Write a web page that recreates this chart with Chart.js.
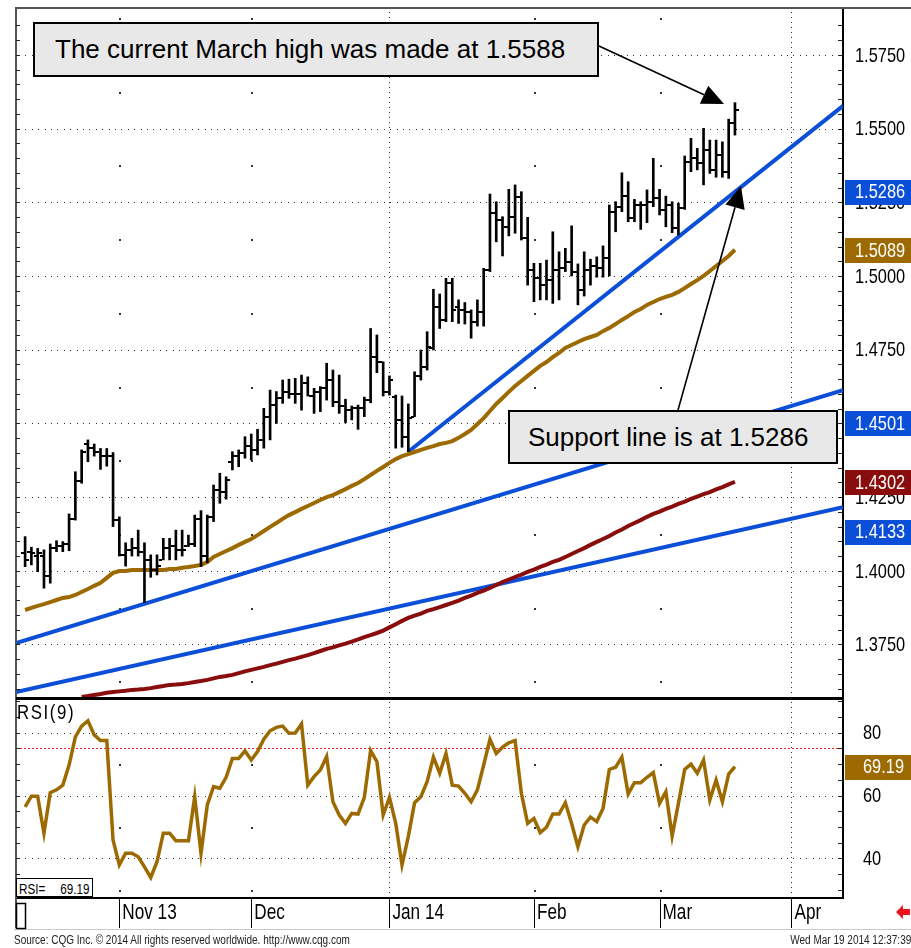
<!DOCTYPE html>
<html>
<head>
<meta charset="utf-8">
<script src="https://cdn.jsdelivr.net/npm/chart.js@4.4.1/dist/chart.umd.min.js"></script>
<style>
  body { margin: 0; background: #fff; }
  #wrap { position: relative; width: 911px; height: 948px; overflow: hidden; background: #fff; }
  #chart { position: absolute; left: 0; top: 0; }
  .note { position: absolute; box-sizing: border-box; background: #e8e8e8; border: 2px solid #000;
          font: 26px "Liberation Sans", Arial, sans-serif; color: #000; display: flex; align-items: center; white-space: nowrap; }
  .narrow { position: absolute; font-family: "Liberation Sans", Arial, sans-serif; color: #000; white-space: nowrap;
            transform-origin: 0 0; }
  .rsibox { position: absolute; left: 16px; top: 878px; width: 77px; height: 19px; box-sizing: border-box; border: 1px solid #000; background: #fff; }
  .rsibox span { position: absolute; top: 1px; font: 15px "Liberation Sans", Arial, sans-serif; transform: scaleX(0.78); }
</style>
</head>
<body>
<div id="wrap">
  <canvas id="chart" width="911" height="948"></canvas>
  <div class="note" style="left:33px;top:22px;width:566px;height:55px;padding-left:20px">The current March high was made at 1.5588</div>
  <div class="note" style="left:508px;top:410px;width:330px;height:54px;padding-left:18px">Support line is at 1.5286</div>
  <div class="narrow" style="left:17px;top:700px;font-size:21px;letter-spacing:2px;transform:scaleX(0.8)">RSI(9)</div>
  <div class="rsibox"><span style="left:2px;transform-origin:0 0">RSI=</span><span style="right:2px;transform-origin:100% 0">69.19</span></div>
  <div class="narrow" style="left:14px;top:933px;font-size:12.5px;color:#222;transform:scaleX(0.8)">Source: CQG Inc. © 2014 All rights reserved worldwide. http://www.cqg.com</div>
  <div class="narrow" style="right:0;top:933px;font-size:12.5px;color:#222;transform:scaleX(0.8);transform-origin:100% 0">Wed Mar 19 2014 12:37:39</div>
</div>
<script>
// daily bars, Oct 11 2013 .. Mar 19 2014 (index = trading day)
const opens = [1.4061,1.4065,1.4050,1.4050,1.3982,1.4077,1.4084,1.4091,1.4176,1.4305,
  1.4430,1.4416,1.4403,1.4389,1.4389,1.4172,1.4054,1.4071,1.4077,1.4064,
  1.4037,1.4003,1.4037,1.4077,1.4084,1.4071,1.4084,1.4091,1.4176,1.4050,
  1.4182,1.4274,1.4267,1.4369,1.4389,1.4399,1.4423,1.4410,1.4444,1.4523,
  1.4562,1.4586,1.4607,1.4600,1.4600,1.4637,1.4593,1.4607,1.4620,1.4647,
  1.4573,1.4559,1.4545,1.4552,1.4552,1.4579,1.4725,1.4708,1.4607,1.4589,
  1.4512,1.4454,1.4523,1.4661,1.4691,1.4756,1.4895,1.4851,1.4976,1.4895,
  1.4885,1.4878,1.4844,1.4878,1.5020,1.5214,1.5190,1.5166,1.5200,1.5268,
  1.5129,1.5020,1.4993,1.4969,1.4986,1.5020,1.5027,1.5047,1.5013,1.4952,
  1.5020,1.5034,1.5027,1.5061,1.5217,1.5234,1.5271,1.5197,1.5241,1.5241,
  1.5251,1.5264,1.5224,1.5241,1.5163,1.5231,1.5387,1.5400,1.5383,1.5427,
  1.5360,1.5410,1.5353,1.5519];
const highs = [1.4116,1.4080,1.4076,1.4071,1.4091,1.4102,1.4099,1.4193,1.4336,1.4410,
  1.4444,1.4430,1.4415,1.4415,1.4401,1.4183,1.4095,1.4110,1.4138,1.4095,
  1.4054,1.4054,1.4110,1.4110,1.4138,1.4138,1.4121,1.4189,1.4204,1.4189,
  1.4291,1.4331,1.4319,1.4404,1.4410,1.4455,1.4464,1.4480,1.4551,1.4613,
  1.4608,1.4647,1.4650,1.4653,1.4664,1.4658,1.4619,1.4625,1.4704,1.4681,
  1.4664,1.4582,1.4559,1.4562,1.4589,1.4822,1.4800,1.4709,1.4661,1.4596,
  1.4593,1.4566,1.4675,1.4749,1.4811,1.4955,1.4939,1.4992,1.4992,1.4919,
  1.4910,1.4885,1.4919,1.5026,1.5278,1.5252,1.5201,1.5294,1.5309,1.5286,
  1.5199,1.5043,1.5043,1.5054,1.5150,1.5082,1.5094,1.5170,1.5041,1.5082,
  1.5057,1.5065,1.5102,1.5241,1.5252,1.5350,1.5320,1.5260,1.5252,1.5292,
  1.5399,1.5294,1.5271,1.5252,1.5247,1.5407,1.5467,1.5433,1.5501,1.5461,
  1.5461,1.5455,1.5532,1.5588];
const lows = [1.4014,1.4020,1.3997,1.3941,1.3958,1.4065,1.4065,1.4068,1.4172,1.4297,
  1.4370,1.4389,1.4344,1.4355,1.4150,1.4050,1.4016,1.4050,1.4050,1.3892,
  1.3978,1.3986,1.4037,1.4037,1.4037,1.4050,1.4082,1.4082,1.4014,1.4027,
  1.4167,1.4229,1.4243,1.4342,1.4353,1.4382,1.4376,1.4393,1.4416,1.4444,
  1.4500,1.4568,1.4585,1.4568,1.4545,1.4593,1.4534,1.4540,1.4579,1.4557,
  1.4534,1.4502,1.4512,1.4480,1.4523,1.4570,1.4672,1.4593,1.4596,1.4416,
  1.4419,1.4404,1.4523,1.4647,1.4681,1.4749,1.4822,1.4845,1.4845,1.4839,
  1.4837,1.4789,1.4830,1.4830,1.5015,1.5116,1.5068,1.5136,1.5145,1.5122,
  1.4969,1.4913,1.4919,1.4919,1.4907,1.4919,1.5015,1.5000,1.4902,1.4932,
  1.4969,1.4996,1.4996,1.5000,1.5150,1.5218,1.5184,1.5184,1.5158,1.5181,
  1.5235,1.5207,1.5167,1.5147,1.5139,1.5226,1.5354,1.5360,1.5309,1.5348,
  1.5335,1.5335,1.5331,1.5478];
const closes = [1.4037,1.4060,1.4060,1.3982,1.4077,1.4084,1.4091,1.4176,1.4305,1.4403,
  1.4416,1.4403,1.4389,1.4389,1.4172,1.4054,1.4071,1.4077,1.4064,1.4037,
  1.4003,1.4016,1.4077,1.4084,1.4071,1.4071,1.4091,1.4176,1.4050,1.4182,
  1.4274,1.4267,1.4308,1.4389,1.4399,1.4423,1.4410,1.4444,1.4523,1.4562,
  1.4586,1.4607,1.4600,1.4600,1.4637,1.4593,1.4607,1.4620,1.4647,1.4573,
  1.4559,1.4545,1.4552,1.4552,1.4579,1.4725,1.4708,1.4607,1.4647,1.4512,
  1.4454,1.4518,1.4661,1.4691,1.4759,1.4895,1.4851,1.4976,1.4885,1.4885,
  1.4878,1.4844,1.4878,1.5020,1.5214,1.5190,1.5166,1.5200,1.5268,1.5129,
  1.5020,1.4993,1.4969,1.4986,1.5020,1.5027,1.5047,1.5013,1.4952,1.5020,
  1.5034,1.5027,1.5061,1.5217,1.5234,1.5271,1.5197,1.5241,1.5241,1.5251,
  1.5264,1.5224,1.5241,1.5163,1.5231,1.5387,1.5400,1.5383,1.5427,1.5360,
  1.5410,1.5353,1.5519,1.5563];

// moving averages
const maFast = [1.3867,1.3874,1.3881,1.3887,1.3894,1.3901,1.3908,1.3911,1.3918,1.3928,
  1.3938,1.3949,1.3959,1.3976,1.3993,1.3999,1.3999,1.4003,1.4003,1.4003,
  1.4003,1.4003,1.4003,1.4006,1.4006,1.4010,1.4013,1.4016,1.4020,1.4030,
  1.4047,1.4057,1.4067,1.4077,1.4088,1.4098,1.4108,1.4121,1.4135,1.4149,
  1.4162,1.4176,1.4189,1.4199,1.4210,1.4220,1.4230,1.4240,1.4250,1.4257,
  1.4267,1.4277,1.4288,1.4298,1.4311,1.4325,1.4339,1.4352,1.4366,1.4379,
  1.4389,1.4396,1.4403,1.4410,1.4417,1.4423,1.4430,1.4434,1.4440,1.4451,
  1.4464,1.4478,1.4498,1.4518,1.4542,1.4566,1.4586,1.4607,1.4627,1.4644,
  1.4661,1.4678,1.4695,1.4708,1.4725,1.4739,1.4756,1.4766,1.4776,1.4786,
  1.4793,1.4800,1.4813,1.4824,1.4837,1.4851,1.4864,1.4878,1.4888,1.4902,
  1.4912,1.4922,1.4929,1.4936,1.4946,1.4959,1.4973,1.4986,1.5000,1.5017,
  1.5034,1.5051,1.5068,1.5089];
const maSlow = [null,null,null,null,null,null,null,null,null,1.3572,
  1.3575,1.3579,1.3582,1.3586,1.3589,1.3591,1.3593,1.3596,1.3597,1.3599,
  1.3602,1.3606,1.3609,1.3613,1.3614,1.3616,1.3619,1.3623,1.3626,1.3630,
  1.3635,1.3640,1.3643,1.3647,1.3653,1.3659,1.3664,1.3669,1.3674,1.3680,
  1.3685,1.3691,1.3697,1.3702,1.3708,1.3714,1.3721,1.3728,1.3735,1.3740,
  1.3747,1.3753,1.3760,1.3767,1.3775,1.3782,1.3789,1.3797,1.3808,1.3819,
  1.3830,1.3840,1.3848,1.3855,1.3864,1.3870,1.3877,1.3884,1.3891,1.3899,
  1.3908,1.3916,1.3925,1.3933,1.3942,1.3952,1.3962,1.3970,1.3979,1.3987,
  1.3996,1.4004,1.4013,1.4021,1.4030,1.4037,1.4047,1.4057,1.4067,1.4077,
  1.4088,1.4098,1.4108,1.4118,1.4130,1.4140,1.4152,1.4162,1.4172,1.4183,
  1.4193,1.4201,1.4210,1.4218,1.4227,1.4235,1.4244,1.4252,1.4260,1.4267,
  1.4276,1.4284,1.4293,1.4302];

const rsi9 = [56.4,59.8,59.8,48.0,60.9,61.8,63.3,69.7,78.7,82.1,
  83.8,79.3,77.5,77.5,45.8,37.9,41.6,41.6,40.5,37.3,
  33.9,38.9,48.0,48.0,45.6,45.6,45.6,59.6,41.6,57.0,
  62.8,62.3,65.8,71.8,71.8,74.2,71.3,74.0,77.9,80.6,
  81.7,82.1,79.8,79.9,82.8,63.3,66.0,68.1,72.4,58.0,
  53.8,51.1,54.3,54.1,59.4,74.3,70.8,53.8,59.4,51.1,
  37.9,46.9,57.7,59.6,64.4,72.2,67.1,73.4,63.3,63.0,
  60.7,58.0,61.8,69.7,77.9,73.4,75.4,76.8,77.5,60.7,
  51.1,52.7,48.2,49.9,54.1,54.1,57.7,51.1,43.7,50.6,
  53.1,51.7,55.9,68.3,69.0,72.2,60.5,64.1,64.1,65.8,
  67.3,57.5,61.2,47.1,57.5,68.3,70.0,67.1,71.3,58.6,
  64.9,58.0,66.8,69.19];

// trend lines: [start index, start price, end index, end price]
const supportTrend = [61, 1.4404, 130.2, 1.5577];
const upperTrend = [-1.45, 1.3755, 130.2, 1.4613];
const lowerTrend = [-1.45, 1.3589, 130.2, 1.4216];

// axis
const monthLabels = ['Nov 13', 'Dec', 'Jan 14', 'Feb', 'Mar', 'Apr'];
const monthStarts = [15, 36, 58, 81, 101, 122];
const yearMarks = [false, false, true, false, false, true];
const priceTicks = [1.375, 1.4, 1.425, 1.45, 1.475, 1.5, 1.525, 1.55, 1.575];
const rsiTicks = [40, 60, 80];
const rsiLevel = 75;

// last values shown on the price axis
const lastValues = [1.5286, 1.5089, 1.4501, 1.4302, 1.4133];
const lastRsi = 69.19;

const BLUE = '#0b4fd9', BROWN = '#9c6a00', MAROON = '#8a0d0d';
const lastColors = [BLUE, BROWN, BLUE, MAROON, BLUE];

function pts(arr) { return arr.map((v, i) => ({x: i, y: v})); }
function trend(t) { return [{x: t[0], y: t[1]}, {x: t[2], y: t[3]}]; }

// condensed label text, like the terminal's bitmap font
function label(ctx, txt, x, y, size, color) {
  ctx.save();
  ctx.translate(x, y);
  ctx.scale(0.78, 1);
  ctx.font = size + 'px "Liberation Sans", Arial, sans-serif';
  ctx.fillStyle = color;
  ctx.textAlign = 'left';
  ctx.textBaseline = 'middle';
  ctx.fillText(txt, 0, 0);
  ctx.restore();
}

function arrow(ctx, x0, y0, x1, y1) {
  const a = Math.atan2(y1 - y0, x1 - x0), L = 22, W = 10;
  const bx = x1 - L * Math.cos(a), by = y1 - L * Math.sin(a);
  ctx.beginPath();
  ctx.moveTo(x0, y0);
  ctx.lineTo(bx, by);
  ctx.lineWidth = 1.6;
  ctx.strokeStyle = '#000';
  ctx.stroke();
  ctx.beginPath();
  ctx.moveTo(x1, y1);
  ctx.lineTo(bx + W * Math.sin(a), by - W * Math.cos(a));
  ctx.lineTo(bx - W * Math.sin(a), by + W * Math.cos(a));
  ctx.closePath();
  ctx.fillStyle = '#000';
  ctx.fill();
}

function noPad(s) { s.paddingTop = 0; s.paddingBottom = 0; s.paddingLeft = 0; s.paddingRight = 0; }

const panels = {
  id: 'panels',
  beforeDatasetsDraw(chart) {
    const {ctx, scales: {x, y, yr}} = chart;
    const left = x.left, right = x.right;
    ctx.save();
    ctx.fillStyle = '#333';
    // dotted horizontal grid
    priceTicks.forEach(v => {
      const py = Math.round(y.getPixelForValue(v));
      for (let px = left + 3; px < right - 2; px += 6.4) ctx.fillRect(Math.round(px), py, 1, 1);
    });
    rsiTicks.forEach(v => {
      const py = Math.round(yr.getPixelForValue(v));
      for (let px = left + 3; px < right - 2; px += 6.4) ctx.fillRect(Math.round(px), py, 1, 1);
    });
    // month lines
    monthStarts.forEach((m, k) => {
      const px = Math.round(x.getPixelForValue(m));
      if (yearMarks[k]) {
        for (let py = y.top + 3; py < yr.bottom - 1; py += 5) ctx.fillRect(px, Math.round(py), 1, 1);
      } else {
        priceTicks.forEach(v => {
          [v - 0.0125, v + 0.0125].forEach(h => {
            const py = y.getPixelForValue(h);
            if (py > y.top && py < y.bottom) ctx.fillRect(px, Math.round(py), 2, 2);
          });
        });
        rsiTicks.forEach(v => {
          [v - 10, v + 10].forEach(h => {
            const py = yr.getPixelForValue(h);
            if (py > yr.top + 4 && py < yr.bottom) ctx.fillRect(px, Math.round(py), 2, 2);
          });
        });
      }
    });
    // overbought level
    const ly = Math.round(yr.getPixelForValue(rsiLevel)) + 0.5;
    ctx.strokeStyle = '#e8262a';
    ctx.lineWidth = 1;
    ctx.setLineDash([2, 2]);
    ctx.beginPath(); ctx.moveTo(left, ly); ctx.lineTo(right, ly); ctx.stroke();
    ctx.restore();
  },
  afterDatasetsDraw(chart) {
    const {ctx, scales: {x, y}} = chart;
    ctx.save();
    ctx.fillStyle = '#000';
    for (let i = 0; i < opens.length; i++) {
      const px = Math.round(x.getPixelForValue(i));
      const po = Math.round(y.getPixelForValue(opens[i]));
      const pc = Math.round(y.getPixelForValue(closes[i]));
      ctx.fillRect(px - 4, po - 1, 3, 2);
      ctx.fillRect(px + 1, pc - 1, 3, 2);
    }
    ctx.restore();
  },
  afterDraw(chart) {
    const {ctx, scales: {x, y, yr}} = chart;
    const W = chart.width;
    ctx.save();
    // frame
    ctx.fillStyle = '#555';
    ctx.fillRect(x.left - 1, y.top - 1, 2, 929 - y.top);
    ctx.fillRect(x.left - 1, y.top - 2, W - x.left + 1, 2);
    ctx.fillStyle = '#000';
    ctx.fillRect(x.left, y.bottom - 1, x.right - x.left, 3);
    // minor ticks on both edges
    ctx.fillStyle = '#222';
    for (let v = 1.36; v < 1.59; v += 0.005) {
      const py = Math.round(y.getPixelForValue(v));
      if (py <= y.top + 2 || py >= y.bottom - 2) continue;
      ctx.fillRect(x.left, py, 4, 1);
      ctx.fillRect(x.right - 5, py, 4, 1);
    }
    for (let v = 30; v < 91; v += 5) {
      const py = Math.round(yr.getPixelForValue(v));
      if (py <= yr.top + 2 || py >= yr.bottom - 2) continue;
      ctx.fillRect(x.left, py, 4, 1);
      ctx.fillRect(x.right - 5, py, 4, 1);
    }
    // axis labels
    priceTicks.forEach(v => label(ctx, v.toFixed(4), y.left + 12, y.getPixelForValue(v) + 1, 21, '#000'));
    rsiTicks.forEach(v => label(ctx, String(v), yr.left + 20, yr.getPixelForValue(v) + 1, 21, '#000'));
    monthStarts.forEach((m, k) => label(ctx, monthLabels[k], x.getPixelForValue(m) + 3, x.top + 15, 22, '#000'));
    // last value boxes
    lastValues.forEach((v, k) => {
      const py = y.getPixelForValue(v);
      ctx.fillStyle = lastColors[k];
      ctx.fillRect(y.left + 2, Math.round(py) - 12, W - y.left - 2, 25);
      label(ctx, v.toFixed(4), y.left + 12, py + 1, 21, '#fff');
    });
    const ry = yr.getPixelForValue(lastRsi);
    ctx.fillStyle = BROWN;
    ctx.fillRect(yr.left + 2, Math.round(ry) - 12, W - yr.left - 2, 25);
    label(ctx, lastRsi.toFixed(2), yr.left + 20, ry + 1, 21, '#fff');
    // x axis row
    ctx.fillStyle = '#000';
    monthStarts.forEach(m => {
      const px = Math.round(x.getPixelForValue(m));
      ctx.fillRect(px, yr.bottom, 1, 30);
    });
    ctx.fillStyle = '#c8c8c8';
    ctx.fillRect(14, 929, W - 14, 1);
    ctx.strokeStyle = '#000';
    ctx.lineWidth = 1.5;
    ctx.strokeRect(16.5, 903.5, 9, 25);
    // red back arrow
    ctx.fillStyle = '#e8141c';
    ctx.beginPath();
    ctx.moveTo(896, 912); ctx.lineTo(903, 905); ctx.lineTo(903, 909); ctx.lineTo(910, 909);
    ctx.lineTo(910, 915); ctx.lineTo(903, 915); ctx.lineTo(903, 919); ctx.closePath();
    ctx.fill();
    // callout arrows
    arrow(ctx, 599, 46, 724, 104);
    arrow(ctx, 678, 410, 741, 186);
    ctx.restore();
  }
};

new Chart(document.getElementById('chart'), {
  type: 'line',
  data: {
    datasets: [
      {
        type: 'bar',
        data: highs.map((h, i) => ({x: i, y: [lows[i], h]})),
        backgroundColor: '#000',
        borderWidth: 0,
        barThickness: 2,
        yAxisID: 'y',
        order: 0
      },
      {data: trend(supportTrend), borderColor: BLUE, borderWidth: 4, pointRadius: 0, yAxisID: 'y', order: 2},
      {data: trend(upperTrend), borderColor: BLUE, borderWidth: 4, pointRadius: 0, yAxisID: 'y', order: 2},
      {data: trend(lowerTrend), borderColor: BLUE, borderWidth: 4, pointRadius: 0, yAxisID: 'y', order: 2},
      {data: pts(maSlow), borderColor: MAROON, borderWidth: 4, pointRadius: 0, yAxisID: 'y', order: 1},
      {data: pts(maFast), borderColor: BROWN, borderWidth: 4, pointRadius: 0, yAxisID: 'y', order: 1},
      {data: pts(rsi9), borderColor: BROWN, borderWidth: 3.5, pointRadius: 0, yAxisID: 'yr', order: 1}
    ]
  },
  options: {
    responsive: false,
    devicePixelRatio: 1,
    animation: false,
    events: [],
    layout: {padding: {left: 16, top: 9, right: 0, bottom: 0}},
    plugins: {legend: {display: false}, tooltip: {enabled: false}},
    scales: {
      x: {
        type: 'linear',
        min: -1.45,
        max: 130.2,
        offset: false,
        grid: {display: false, drawTicks: false},
        border: {display: true, color: '#000', width: 2},
        ticks: {display: false},
        afterFit: s => { s.height = 50; noPad(s); }
      },
      y: {
        type: 'linear',
        position: 'right',
        stack: 'panes',
        stackWeight: 689,
        min: 1.35685,
        max: 1.59057,
        grid: {display: false, drawTicks: false},
        border: {display: true, color: '#000', width: 2},
        ticks: {display: false},
        afterFit: s => { s.width = 68; noPad(s); }
      },
      yr: {
        type: 'linear',
        position: 'right',
        stack: 'panes',
        stackWeight: 200,
        min: 27.36,
        max: 91.05,
        grid: {display: false, drawTicks: false},
        border: {display: true, color: '#000', width: 2},
        ticks: {display: false},
        afterFit: s => { s.width = 68; noPad(s); }
      }
    }
  },
  plugins: [panels]
});
</script>
</body>
</html>
